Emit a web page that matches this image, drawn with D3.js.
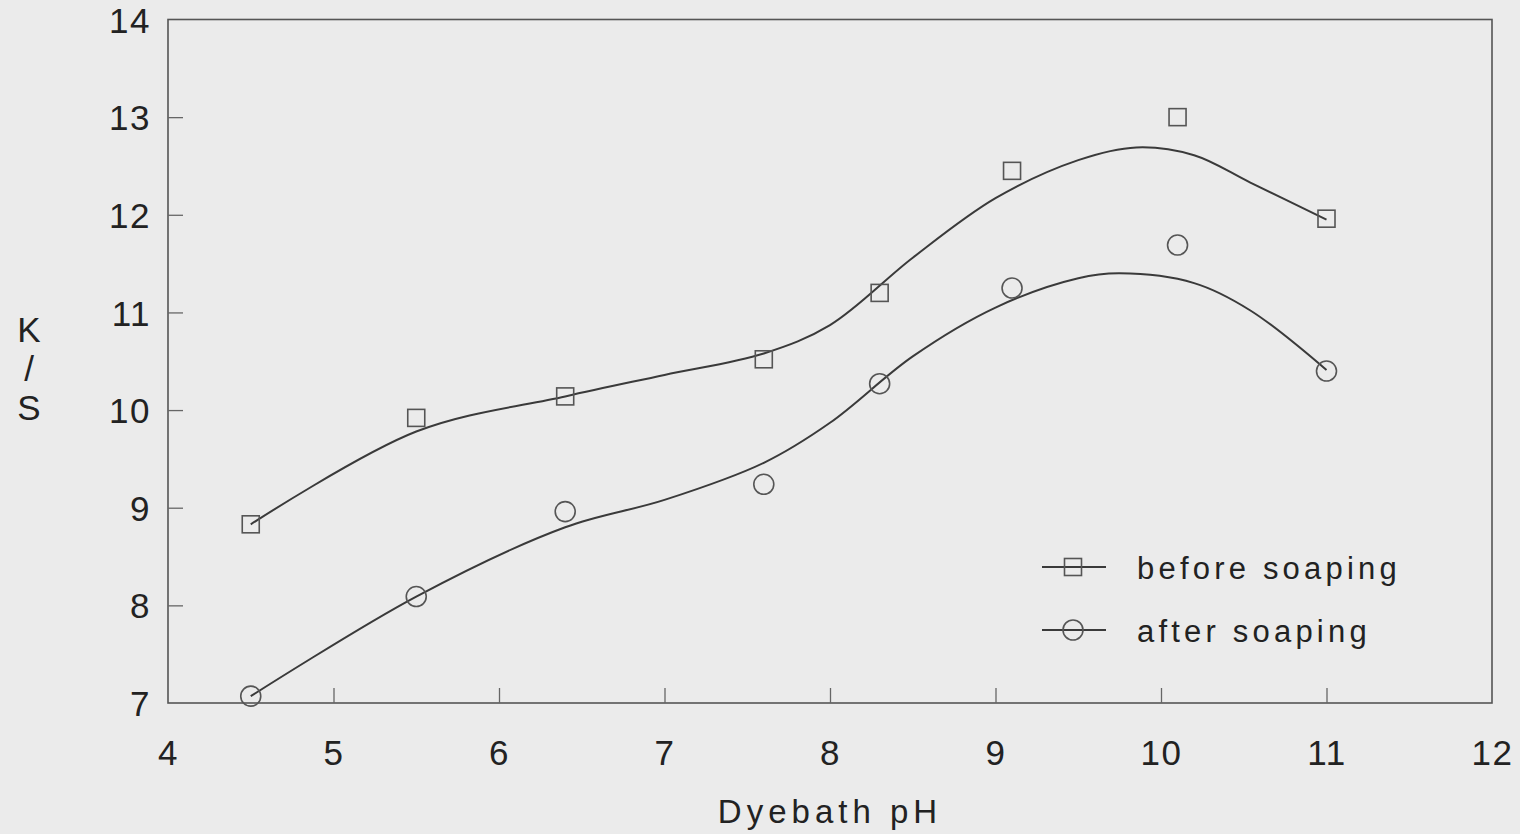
<!DOCTYPE html>
<html><head><meta charset="utf-8">
<script src="https://cdn.jsdelivr.net/npm/d3@7"></script>
<style>
html,body{margin:0;padding:0;background:#ebebeb;}
svg{display:block;}
text{font-family:"Liberation Sans",Arial,sans-serif;fill:#222;}
</style></head>
<body>
<svg id="chart" width="1520" height="834"></svg>
<script>
// measured data
const phValues = [4.5, 5.5, 6.4, 7.6, 8.3, 9.1, 10.1, 11.0];
const beforeSoaping = [8.83, 9.92, 10.14, 10.52, 11.20, 12.45, 13.0, 11.96];
const afterSoaping = [7.07, 8.09, 8.96, 9.24, 10.27, 11.25, 11.69, 10.40];
// fitted curves
const fitX = [4.5, 5.5, 6.4, 7.0, 7.6, 8.0, 8.5, 9.0, 9.5, 9.85, 10.2, 10.54, 11.0];
const fitBefore = [8.83, 9.78, 10.14, 10.36, 10.58, 10.87, 11.56, 12.17, 12.56, 12.69, 12.61, 12.33, 11.95];
const fitX2 = [4.5, 5.5, 6.4, 7.0, 7.6, 8.0, 8.5, 9.0, 9.5, 9.75, 10.2, 10.54, 11.0];
const fitAfter = [7.07, 8.09, 8.80, 9.08, 9.46, 9.87, 10.55, 11.05, 11.35, 11.40, 11.30, 11.02, 10.41];
const xTicks = [4, 5, 6, 7, 8, 9, 10, 11, 12];
const yTicks = [7, 8, 9, 10, 11, 12, 13, 14];
const seriesNames = ["before soaping", "after soaping"];

const svg = d3.select("#chart");
const L = 168, R = 1492, T = 19.5, B = 703;
const x = d3.scaleLinear().domain([4, 12]).range([L, R]);
const y = d3.scaleLinear().domain([7, 14]).range([B, T]);
const ink = "#3a3a3a";

// frame
svg.append("rect").attr("x", L).attr("y", T).attr("width", R - L).attr("height", B - T)
  .attr("fill", "none").attr("stroke", "#555").attr("stroke-width", 1.6);

// axes (inward ticks)
const xAxis = svg.append("g").attr("transform", `translate(0,${B})`)
  .call(d3.axisBottom(x).tickValues(xTicks).tickSize(-15).tickPadding(0).tickFormat(d3.format("d")));
xAxis.select(".domain").remove();
xAxis.selectAll(".tick line").attr("stroke", "#666").attr("stroke-width", 1.3)
  .filter(d => d === 4 || d === 12).remove();
xAxis.selectAll(".tick text").attr("y", 62).attr("dy", 0).style("font-size", "35px")
  .style("letter-spacing", "1.5px").attr("fill", "#222");

const yAxis = svg.append("g").attr("transform", `translate(${L},0)`)
  .call(d3.axisLeft(y).tickValues(yTicks).tickSize(-15).tickPadding(0).tickFormat(d3.format("d")));
yAxis.select(".domain").remove();
yAxis.selectAll(".tick line").attr("stroke", "#666").attr("stroke-width", 1.3)
  .filter(d => d === 7 || d === 14).remove();
yAxis.selectAll(".tick text").attr("x", -17).attr("dy", "0.36em").style("font-size", "35px")
  .style("letter-spacing", "1.5px").attr("fill", "#222");

// curves
const line = d3.line().x(d => x(d[0])).y(d => y(d[1])).curve(d3.curveCatmullRom.alpha(0.5));
svg.append("path").datum(d3.zip(fitX, fitBefore)).attr("d", line)
  .attr("fill", "none").attr("stroke", ink).attr("stroke-width", 2);
svg.append("path").datum(d3.zip(fitX2, fitAfter)).attr("d", line)
  .attr("fill", "none").attr("stroke", ink).attr("stroke-width", 2);

// markers
const S = 17;
svg.append("g").selectAll("rect").data(d3.zip(phValues, beforeSoaping)).join("rect")
  .attr("x", d => x(d[0]) - S / 2).attr("y", d => y(d[1]) - S / 2)
  .attr("width", S).attr("height", S).attr("fill", "none").attr("stroke", "#555").attr("stroke-width", 1.6);
svg.append("g").selectAll("circle").data(d3.zip(phValues, afterSoaping)).join("circle")
  .attr("cx", d => x(d[0])).attr("cy", d => y(d[1])).attr("r", 10)
  .attr("fill", "none").attr("stroke", "#555").attr("stroke-width", 1.6);

// legend
const lg = svg.append("g");
[0, 1].forEach(i => {
  const cy = 567 + i * 63;
  lg.append("line").attr("x1", 1042).attr("x2", 1106).attr("y1", cy).attr("y2", cy)
    .attr("stroke", ink).attr("stroke-width", 2);
  if (i === 0) {
    lg.append("rect").attr("x", 1073 - S / 2).attr("y", cy - S / 2).attr("width", S).attr("height", S)
      .attr("fill", "none").attr("stroke", "#555").attr("stroke-width", 1.6);
  } else {
    lg.append("circle").attr("cx", 1073).attr("cy", cy).attr("r", 10)
      .attr("fill", "none").attr("stroke", "#555").attr("stroke-width", 1.6);
  }
  lg.append("text").attr("x", 1137).attr("y", cy + 12).style("font-size", "31px")
    .style("letter-spacing", "4.2px").text(seriesNames[i]);
});

// axis titles
svg.append("text").attr("x", 830).attr("y", 823).attr("text-anchor", "middle")
  .style("font-size", "33px").style("letter-spacing", "5px").text("Dyebath pH");
const ks = svg.append("text").attr("text-anchor", "middle").style("font-size", "35px");
["K", "/", "S"].forEach((c, i) => {
  ks.append("tspan").attr("x", 29).attr("y", 342 + i * 39).text(c);
});
</script>
</body></html>
